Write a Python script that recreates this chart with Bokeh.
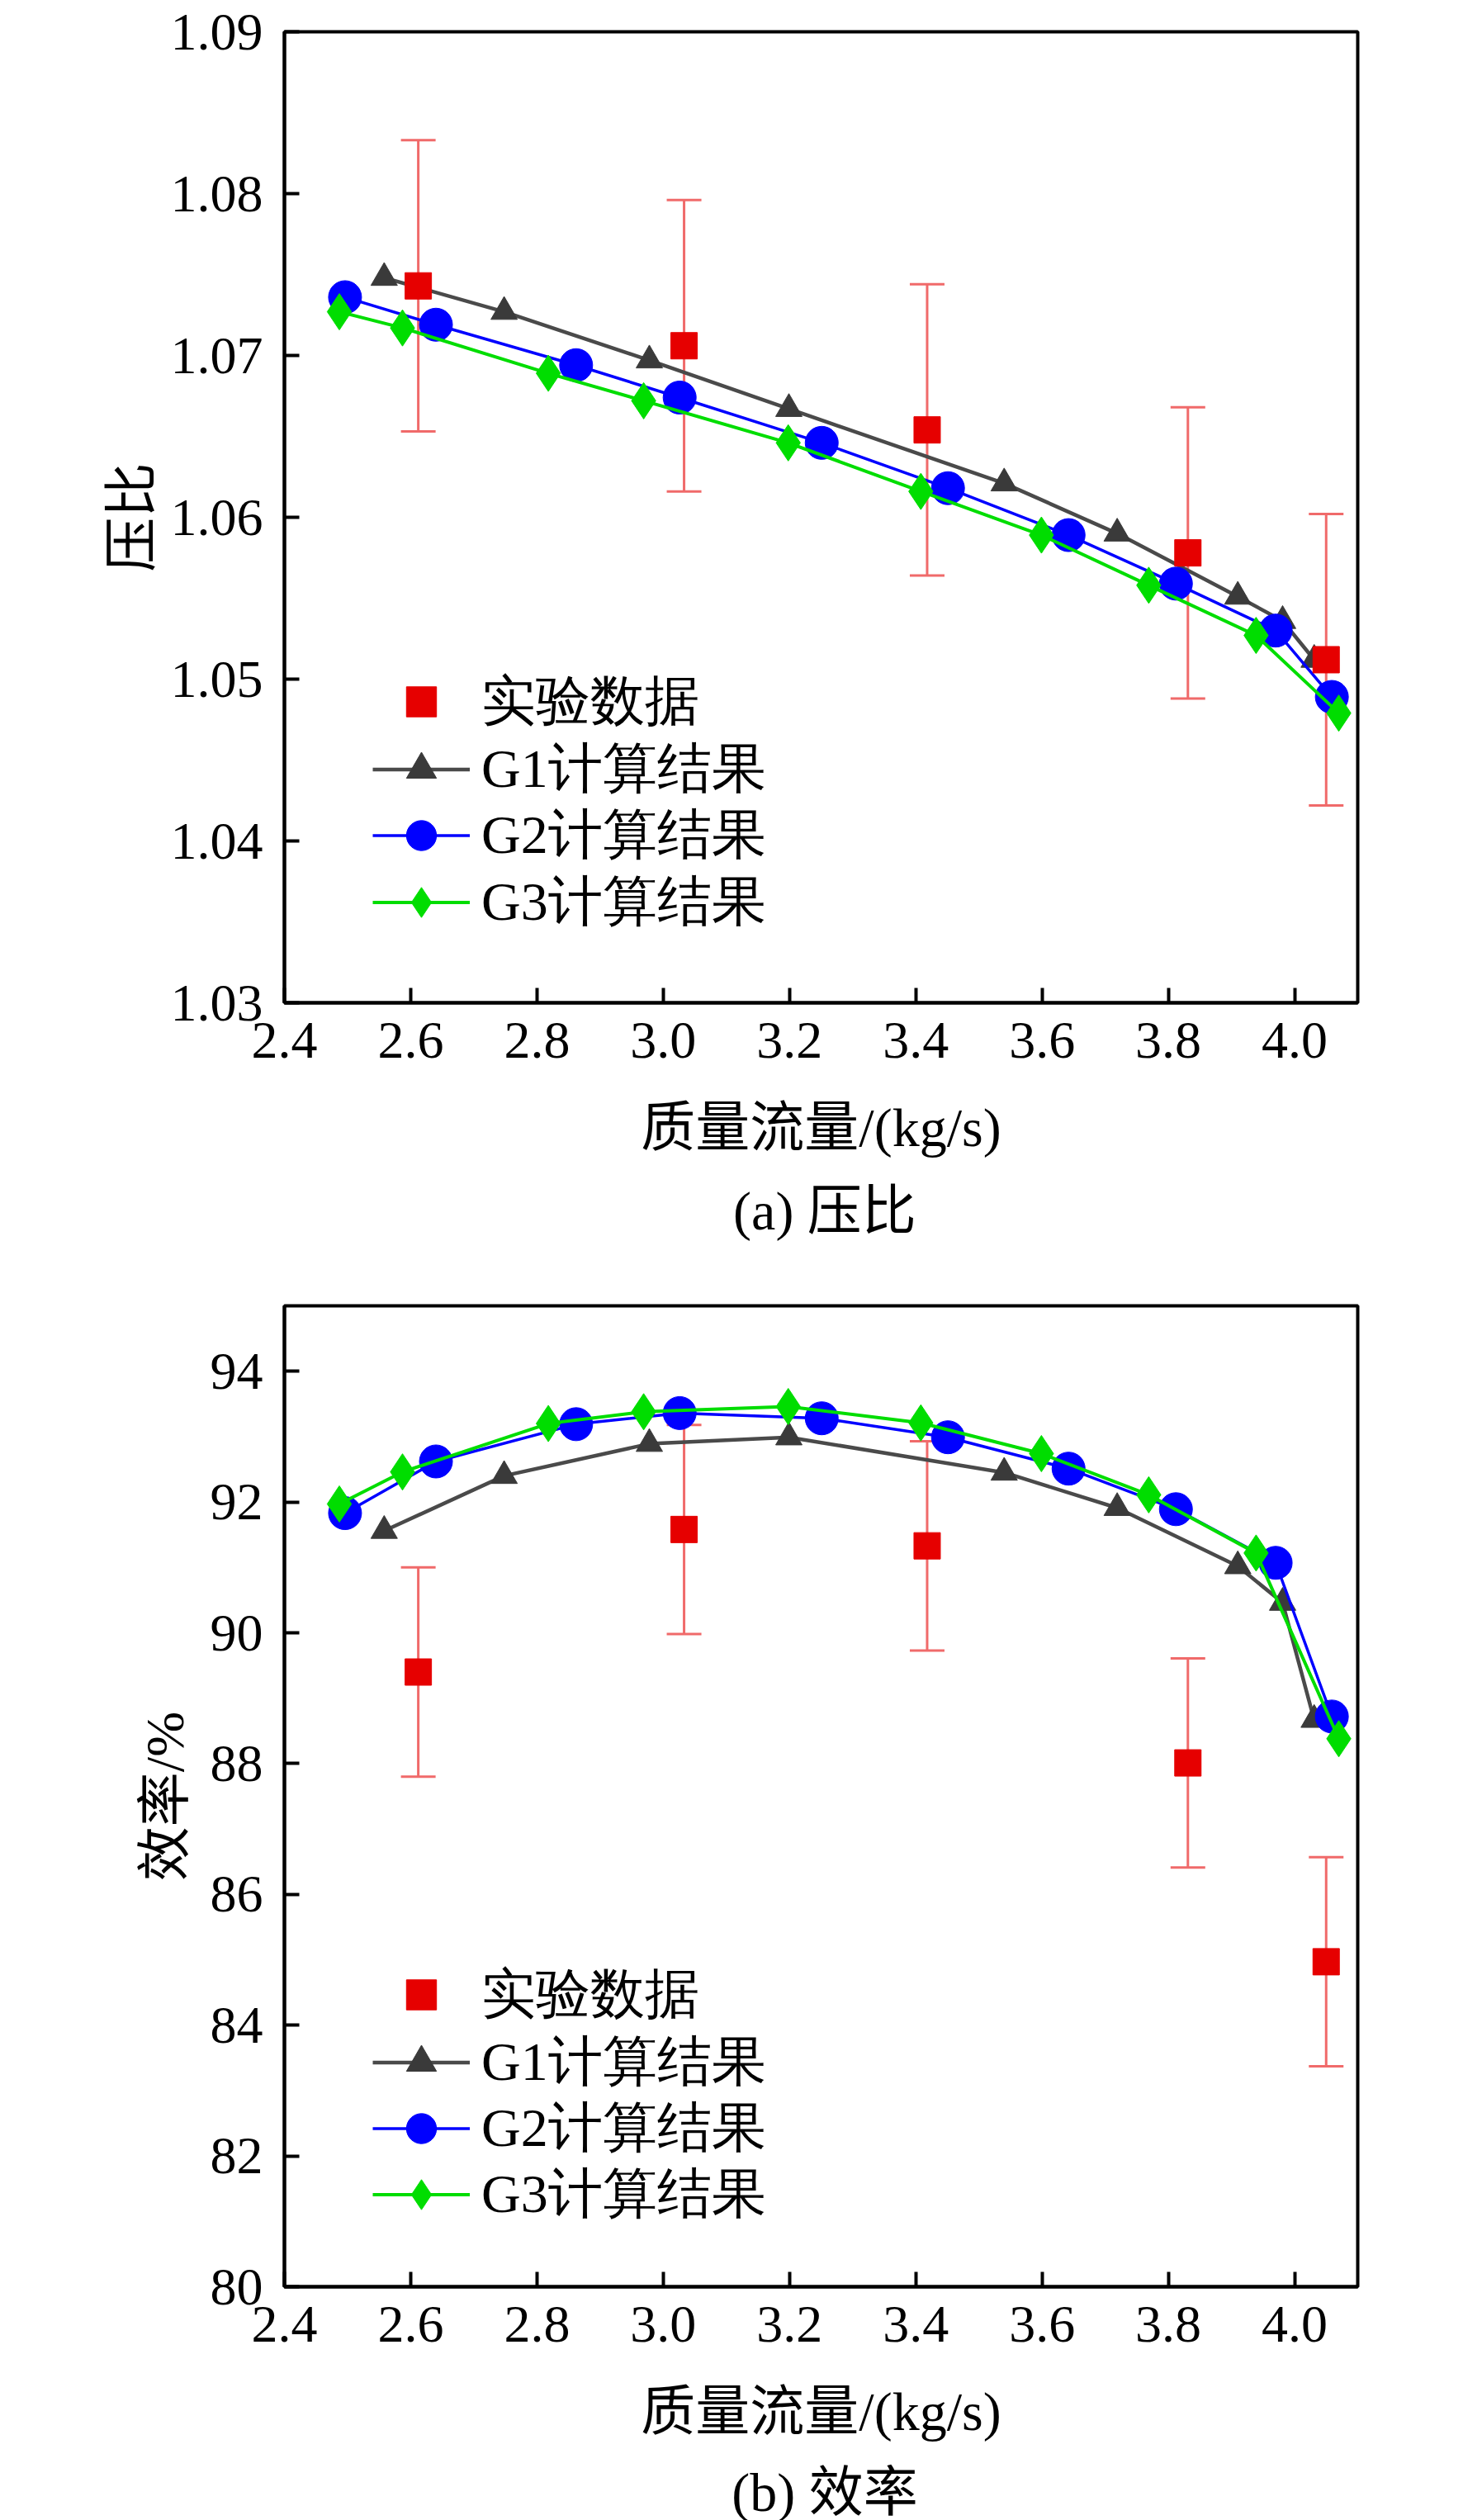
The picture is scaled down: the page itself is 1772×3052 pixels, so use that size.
from bokeh.plotting import figure
from bokeh.models import (ColumnDataSource, Whisker, TeeHead, Legend, LegendItem,
                          FixedTicker, Range1d, Div, Spacer)
from bokeh.layouts import column, row
from bokeh.embed import file_html
from bokeh.resources import INLINE

# ---------------- data ----------------
exp_x = [2.612, 3.033, 3.418, 3.831, 4.050]
exp_pr = [1.0743, 1.0706, 1.0654, 1.0578, 1.0512]
exp_pr_err = [0.009, 0.009, 0.009, 0.009, 0.009]
exp_eff = [89.40, 91.58, 91.33, 88.01, 84.97]
exp_eff_err = [1.6, 1.6, 1.6, 1.6, 1.6]

g1_x = [2.558, 2.748, 2.978, 3.199, 3.540, 3.719, 3.910, 3.981, 4.031]
g1_pr = [1.0748, 1.0727, 1.0697, 1.0667, 1.0621, 1.0590, 1.0551, 1.0536, 1.0512]
g1_eff = [91.56, 92.40, 92.89, 92.99, 92.45, 91.91, 91.02, 90.46, 88.67]

g2_x = [2.496, 2.640, 2.862, 3.026, 3.251, 3.451, 3.642, 3.812, 3.970, 4.059]
g2_pr = [1.0736, 1.0719, 1.0694, 1.0674, 1.0646, 1.0618, 1.0589, 1.0559, 1.0530, 1.0489]
g2_eff = [91.83, 92.62, 93.19, 93.36, 93.28, 92.99, 92.51, 91.89, 91.07, 88.72]

g3_x = [2.487, 2.587, 2.818, 2.969, 3.198, 3.408, 3.599, 3.769, 3.939, 4.070]
g3_pr = [1.0727, 1.0717, 1.0689, 1.0672, 1.0646, 1.0616, 1.0589, 1.0558, 1.0527, 1.0479]
g3_eff = [91.97, 92.46, 93.20, 93.38, 93.46, 93.21, 92.74, 92.11, 91.22, 88.38]

x_ticks = [2.4, 2.6, 2.8, 3.0, 3.2, 3.4, 3.6, 3.8, 4.0]
x_tick_labels = ["2.4", "2.6", "2.8", "3.0", "3.2", "3.4", "3.6", "3.8", "4.0"]
pr_ticks = [1.03, 1.04, 1.05, 1.06, 1.07, 1.08, 1.09]
pr_tick_labels = ["1.03", "1.04", "1.05", "1.06", "1.07", "1.08", "1.09"]
eff_ticks = [80, 82, 84, 86, 88, 90, 92, 94]
eff_tick_labels = ["80", "82", "84", "86", "88", "90", "92", "94"]

legend_labels = ["实验数据", "G1计算结果", "G2计算结果", "G3计算结果"]
x_label = "质量流量/(kg/s)"
captions = ["(a) 压比", "(b) 效率"]
y_names = ["压比", "效率/%"]

SERIF = "Liberation Serif, Noto Sans CJK SC"
RED = "#e60000"
ERR = "#f06a6a"
G1C = "#3a3a3a"
G1L = "#4a4a4a"
G2C = "#0000ff"
G3C = "#00dd00"

ITEM_H = 91


def make_fig(height, border_top, border_bottom, ylims, yticks, ylabels,
             yname, ylabel_standoff, exp_y, exp_err, g1_y, g2_y, g3_y,
             legend_rows):
    p = figure(width=1756, height=height, output_backend="svg",
               toolbar_location=None,
               x_range=Range1d(2.4, 4.1), y_range=Range1d(*ylims),
               min_border_left=344, min_border_right=112,
               min_border_top=border_top, min_border_bottom=border_bottom)
    p.xgrid.visible = False
    p.ygrid.visible = False
    p.outline_line_color = "black"
    p.outline_line_width = 4
    p.outline_line_alpha = 1.0
    p.background_fill_color = "white"
    p.border_fill_color = "white"

    for ax, ticks, labels in ((p.xaxis[0], x_ticks, x_tick_labels),
                              (p.yaxis[0], yticks, ylabels)):
        ax.ticker = FixedTicker(ticks=ticks)
        ax.major_label_overrides = {t: l for t, l in zip(ticks, labels)}
        ax.axis_line_width = 4
        ax.axis_line_color = "black"
        ax.major_tick_line_width = 4
        ax.major_tick_line_color = "black"
        ax.major_tick_in = 18
        ax.major_tick_out = 0
        ax.minor_tick_line_color = None
        ax.major_label_text_font = "Liberation Serif"
        ax.major_label_text_font_size = "64px"
        ax.major_label_text_color = "black"
        ax.axis_label_text_font = SERIF
        ax.axis_label_text_font_size = "66px"
        ax.axis_label_text_font_style = "normal"
        ax.axis_label_text_color = "black"

    p.xaxis.axis_label = x_label
    p.xaxis.major_label_standoff = 24
    p.xaxis.axis_label_standoff = 45
    p.yaxis.axis_label = yname
    p.yaxis.major_label_standoff = 26
    p.yaxis.axis_label_standoff = ylabel_standoff

    # error bars
    src_e = ColumnDataSource(dict(
        x=exp_x, y=exp_y,
        upper=[v + e for v, e in zip(exp_y, exp_err)],
        lower=[v - e for v, e in zip(exp_y, exp_err)]))
    wh = Whisker(base="x", upper="upper", lower="lower", source=src_e,
                 dimension="height", line_color=ERR, line_width=3,
                 level="underlay",
                 upper_head=TeeHead(size=42, line_color=ERR, line_width=3),
                 lower_head=TeeHead(size=42, line_color=ERR, line_width=3))
    p.add_layout(wh)

    l1 = p.line(g1_x, g1_y, line_color=G1L, line_width=4.5)
    m1 = p.scatter(g1_x, g1_y, marker="triangle", size=32,
                   fill_color=G1C, line_color=G1C)
    l2 = p.line(g2_x, g2_y, line_color=G2C, line_width=3.5)
    m2 = p.scatter(g2_x, g2_y, marker="circle", size=40,
                   fill_color=G2C, line_color=G2C)
    l3 = p.line(g3_x, g3_y, line_color=G3C, line_width=4)
    m3 = p.scatter(g3_x, g3_y, marker="diamond", size=44,
                   fill_color=G3C, line_color=G3C)
    me = p.scatter("x", "y", source=src_e, marker="square", size=32,
                   fill_color=RED, line_color=RED)

    # one legend per row so the row pitch matches the reference
    entries = [[me], [l1, m1], [l2, m2], [l3, m3]]
    for lab, rends, row_center in zip(legend_labels, entries, legend_rows):
        lg = Legend(items=[LegendItem(label=lab, renderers=rends)],
                    location=(107, row_center - ITEM_H / 2),
                    orientation="vertical",
                    glyph_width=118, glyph_height=ITEM_H, label_height=ITEM_H,
                    label_standoff=14, spacing=0, padding=0, margin=0,
                    border_line_color=None, background_fill_alpha=0.0,
                    label_text_font="Liberation Serif",
                    label_text_font_size="66px", label_text_color="black")
        p.add_layout(lg, "center")
    return p


def caption_row(text, height, line_height):
    d = Div(text=text, width=1300, height=height,
            styles={"font-family": "'Liberation Serif', 'Noto Sans CJK SC'",
                    "font-size": "66px", "line-height": f"{line_height}px",
                    "text-align": "center", "color": "black",
                    "white-space": "nowrap", "overflow": "visible"})
    return row(Spacer(width=344, height=height), d, spacing=0)


# legend row centres, in px above the bottom of each plot frame
p1 = make_fig(1419, 38, 205, (1.03, 1.09), pr_ticks, pr_tick_labels, y_names[0],
              8, exp_pr, exp_pr_err, g1_pr, g2_pr, g3_pr, [365, 283, 203, 122])
cap1 = caption_row(captions[0], 93, 86)
p2 = make_fig(1452, 59, 205, (80, 95), eff_ticks, eff_tick_labels, y_names[1],
              16, exp_eff, exp_eff_err, g1_eff, g2_eff, g3_eff, [354, 272, 192, 112])
cap2 = caption_row(captions[1], 72, 80)

layout = column(p1, cap1, p2, cap2, spacing=0)
open("out.html", "w").write(file_html(layout, INLINE))
